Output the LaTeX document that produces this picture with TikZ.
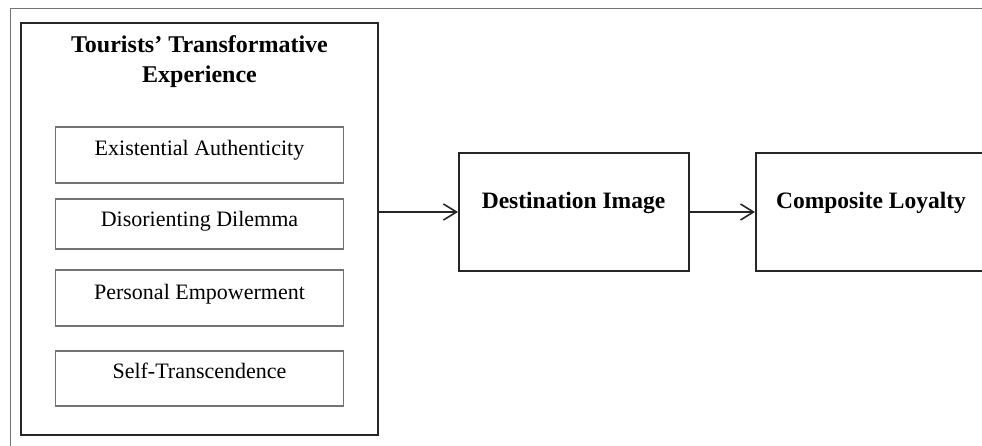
\documentclass[tikz,border=0pt]{standalone}
\usepackage{fontspec}
\setmainfont{Liberation Serif}
\usetikzlibrary{arrows.meta}
\begin{document}
\begin{tikzpicture}[x=1pt,y=-1pt,
  frame/.style={draw=black!55,line width=1pt},
  bigbox/.style={draw=black!85,line width=2pt},
  subbox/.style={draw=black!55,line width=1.5pt},
  mainbox/.style={draw=black!85,line width=2pt},
  boldlbl/.style={font=\fontsize{23.5}{30}\selectfont\bfseries,anchor=base,inner sep=0pt},
  titlelbl/.style={font=\fontsize{24}{30}\selectfont\bfseries,anchor=base,inner sep=0pt},
  sublbl/.style={font=\fontsize{22}{26}\selectfont,anchor=base,inner sep=0pt},
  conn/.style={draw=black!85,line width=1.6pt,-{Straight Barb[length=13pt,width=16pt,line width=1.6pt]}}
]
\useasboundingbox (0,0) rectangle (982,446);
\draw[frame] (10,460) -- (10,9) -- (1000,9);
\node[bigbox,minimum width=357pt,minimum height=412pt,inner sep=0pt] (tte) at (199.5,229) {};
\node[titlelbl] (t1) at (199.5,53) {Tourists’ Transformative};
\node[titlelbl] (t2) at (199.5,83) {Experience};
\node[subbox,minimum width=288pt,minimum height=56pt,inner sep=0pt] (b1) at (199.5,155) {};
\node[sublbl] (l1) at (199.5,156) {Existential Authenticity};
\node[subbox,minimum width=288pt,minimum height=50pt,inner sep=0pt] (b2) at (199.5,224) {};
\node[sublbl] (l2) at (199.5,227) {Disorienting Dilemma};
\node[subbox,minimum width=288pt,minimum height=56pt,inner sep=0pt] (b3) at (199.5,298) {};
\node[sublbl] (l3) at (199.5,299) {Personal Empowerment};
\node[subbox,minimum width=288pt,minimum height=55pt,inner sep=0pt] (b4) at (199.5,378.5) {};
\node[sublbl] (l4) at (199.5,378) {Self-Transcendence};
\node[mainbox,minimum width=230pt,minimum height=118pt,inner sep=0pt] (di) at (574,212) {};
\node[boldlbl] (dil) at (573.5,209) {Destination Image};
\node[mainbox,minimum width=232pt,minimum height=118pt,inner sep=0pt] (cl) at (872,212) {};
\node[boldlbl] (cll) at (871,209) {Composite Loyalty};
\draw[conn] (tte.east |- di.west) -- (di.west);
\draw[conn] (di.east) -- (cl.west);
\end{tikzpicture}
\end{document}
